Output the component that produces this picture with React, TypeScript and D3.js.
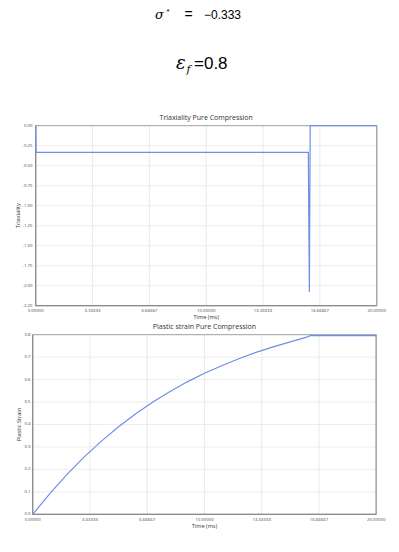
import React from "react";
import * as d3 from "d3";

// ---- data ----
const xTicks = [0, 3.33333, 6.66667, 10, 13.33333, 16.66667, 20];
const xTickLabels = ["0.00000", "3.33333", "6.66667", "10.00000", "13.33333", "16.66667", "20.00000"];

const triTime = [0, 0.02, 15.99, 16.05, 16.1, 20];
const triValue = [0, -0.333, -0.333, -2.08, 0, 0];
const triTicks = [0, -0.25, -0.5, -0.75, -1.0, -1.25, -1.5, -1.75, -2.0, -2.25];

const psTime = [0, 1, 2, 3, 4, 5, 6, 7, 8, 9, 10, 11, 12, 13, 14, 15, 16, 16.15, 20];
const psValue = [0, 0.092, 0.178, 0.256, 0.326, 0.39, 0.448, 0.5, 0.547, 0.59, 0.628, 0.662, 0.693, 0.721, 0.746, 0.768, 0.79, 0.796, 0.796];
const psTicks = [0, 0.1, 0.2, 0.3, 0.4, 0.5, 0.6, 0.7, 0.8];

const FONT = "'Open Sans', 'DejaVu Sans', sans-serif";
const LINE = "#6f8fe6";

type ChartProps = {
  x0: number; x1: number; y0: number; y1: number;
  yDomain: [number, number];
  yTicks: number[];
  yFmt: (v: number) => string;
  times: number[]; values: number[];
  title: string; titleY: number;
  yLabel: string; yLabelX: number;
  xLabelY: number; xTickY: number; yTickX: number;
};

function Chart(p: ChartProps) {
  const x = d3.scaleLinear().domain([0, 20]).range([p.x0, p.x1]);
  const y = d3.scaleLinear().domain(p.yDomain).range([p.y0, p.y1]);
  const pts = p.times.map((t, i) => [t, p.values[i]] as [number, number]);
  const line = d3.line<[number, number]>().x((d) => x(d[0])).y((d) => y(d[1]));
  const midX = (p.x0 + p.x1) / 2;
  const midY = (p.y0 + p.y1) / 2;
  return (
    <g>
      {p.yTicks.map((v, i) => (
        <line key={"gy" + i} x1={p.x0} x2={p.x1} y1={y(v)} y2={y(v)} stroke="#e8e8e8" strokeWidth={0.8} />
      ))}
      {xTicks.map((v, i) => (
        <line key={"gx" + i} x1={x(v)} x2={x(v)} y1={p.y0} y2={p.y1} stroke="#e4e4e4" strokeWidth={0.8} />
      ))}
      <rect x={p.x0} y={p.y0} width={p.x1 - p.x0} height={p.y1 - p.y0} fill="none" stroke="#9a9a9a" strokeWidth={0.9} />
      <line x1={p.x1} x2={p.x1} y1={p.y0} y2={p.y1} stroke="#aaaaaa" strokeWidth={1.4} />
      <line x1={p.x0} x2={p.x0} y1={p.y0} y2={p.y1} stroke="#8a8a8a" strokeWidth={1.2} />
      <line x1={p.x0} x2={p.x1} y1={p.y1} y2={p.y1} stroke="#8a8a8a" strokeWidth={1.2} />
      <path d={line(pts) || ""} fill="none" stroke={LINE} strokeWidth={1.2} />
      {p.yTicks.map((v, i) => (
        <text key={"ty" + i} x={p.yTickX} y={y(v)} dy="0.22em" textAnchor="end" fontSize={4.3} fill="#444" fontFamily={FONT}>
          {p.yFmt(v)}
        </text>
      ))}
      {xTicks.map((v, i) => (
        <text key={"tx" + i} x={x(v)} y={p.xTickY} textAnchor="middle" fontSize={4.3} fill="#444" fontFamily={FONT}>
          {xTickLabels[i]}
        </text>
      ))}
      <text x={midX} y={p.titleY} textAnchor="middle" fontSize={7} fill="#333" fontFamily={FONT}>
        {p.title}
      </text>
      <text x={midX} y={p.xLabelY} textAnchor="middle" fontSize={5.6} fill="#333" fontFamily={FONT}>
        Time (ms)
      </text>
      <text
        transform={`translate(${p.yLabelX},${midY}) rotate(-90)`}
        textAnchor="middle"
        dy="0.35em"
        fontSize={5.6}
        fill="#333"
        fontFamily={FONT}
      >
        {p.yLabel}
      </text>
    </g>
  );
}

export default function App() {
  const mathFont = "'DejaVu Serif', 'Liberation Serif', serif";
  const numFont = "'Liberation Sans', Arial, sans-serif";
  return (
    <svg width={399} height={552} style={{ position: "absolute", left: 0, top: 0, background: "#fff" }}>
      <rect width={399} height={552} fill="#fff" />
      {/* formula lines */}
      <text y={19} fontSize={12} fill="#000" fontFamily={numFont}>
        <tspan x={155} fontFamily={mathFont} fontStyle="italic" fontSize={13}>σ</tspan>
        <tspan x={166.5} dy={-5} fontSize={8}>*</tspan>
        <tspan x={184.5} dy={5} fontSize={14}>=</tspan>
        <tspan x={204}>−0.333</tspan>
      </text>
      <text y={69} fontSize={17} fill="#000" fontFamily={numFont}>
        <tspan x={176} fontFamily={mathFont} fontStyle="italic" fontSize={18}>ε</tspan>
        <tspan x={186.5} dy={4} fontSize={11} fontFamily={mathFont} fontStyle="italic">f</tspan>
        <tspan x={194} dy={-4}>=0.8</tspan>
      </text>
      <Chart
        x0={35.7} x1={376.7} y0={125.7} y1={305.7}
        yDomain={[0, -2.25]} yTicks={triTicks} yFmt={(v) => v.toFixed(2)}
        times={triTime} values={triValue}
        title="Triaxiality Pure Compression" titleY={119.5}
        yLabel="Triaxiality" yLabelX={18.3}
        xLabelY={318.8} xTickY={312.2} yTickX={32.5}
      />
      <Chart
        x0={32.7} x1={376.2} y0={334.7} y1={514.3}
        yDomain={[0.8, 0]} yTicks={psTicks} yFmt={(v) => v.toFixed(1)}
        times={psTime} values={psValue}
        title="Plastic strain Pure Compression" titleY={328.5}
        yLabel="Plastic Strain" yLabelX={19}
        xLabelY={528} xTickY={521.2} yTickX={30.5}
      />
    </svg>
  );
}
